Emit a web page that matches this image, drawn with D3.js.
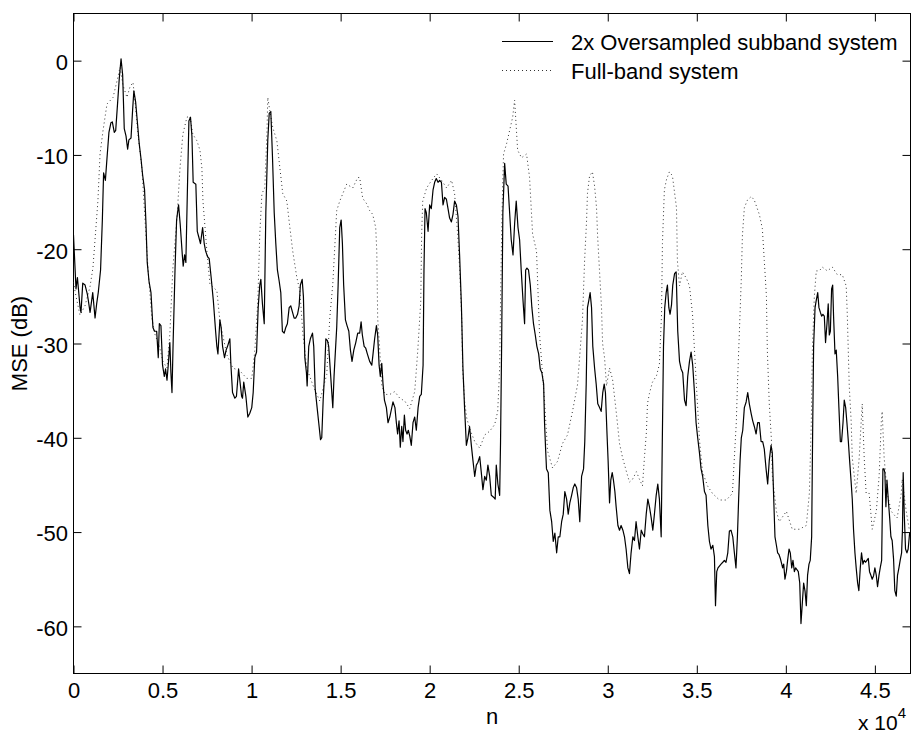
<!DOCTYPE html>
<html>
<head>
<meta charset="utf-8">
<script src="https://cdn.jsdelivr.net/npm/d3@7"></script>
<style>
  body { margin: 0; background: #fff; }
  svg { display: block; font-family: Arial, "Liberation Sans", Helvetica, sans-serif; }
</style>
</head>
<body>
<div id="chart"></div>
<script>
// MSE curves: [n (samples), MSE (dB)]
var subbandPoints = [
  [0,-18.5],[140,-24.2],[220,-23.0],[370,-26.2],[420,-26.7],[520,-23.6],[650,-23.8],[780,-24.8],
  [830,-25.4],[930,-26.7],[1080,-24.6],[1210,-27.3],[1300,-25.8],[1390,-24.6],[1520,-22.2],[1620,-16.9],
  [1690,-11.9],[1790,-12.7],[1860,-10.9],[1990,-7.6],[2100,-6.6],[2180,-6.5],[2290,-7.6],[2370,-7.4],
  [2480,-4.4],[2570,-1.9],[2670,0.2],[2760,-1.5],[2850,-7.2],[2950,-8.0],[3040,-9.4],[3110,-8.4],
  [3230,-8.2],[3320,-5.2],[3390,-3.2],[3490,-4.4],[3600,-6.8],[3690,-8.8],[3790,-10.4],[3880,-12.1],
  [3990,-13.7],[4070,-17.3],[4140,-21.4],[4240,-23.4],[4350,-24.6],[4460,-28.3],[4550,-28.7],[4670,-28.7],
  [4760,-31.5],[4820,-27.9],[4910,-28.1],[5000,-32.3],[5100,-33.5],[5170,-32.7],[5250,-33.9],[5320,-32.3],
  [5410,-29.9],[5470,-33.1],[5530,-35.2],[5600,-29.5],[5700,-22.2],[5790,-16.9],[5900,-15.3],[5990,-17.3],
  [6110,-20.6],[6160,-21.8],[6240,-20.6],[6310,-21.4],[6410,-12.5],[6480,-6.4],[6570,-6.0],[6650,-8.0],
  [6720,-12.9],[6870,-13.1],[6950,-18.1],[7020,-18.6],[7130,-19.4],[7250,-17.7],[7340,-19.4],[7420,-20.2],
  [7530,-20.8],[7620,-21.0],[7730,-23.0],[7850,-25.4],[7980,-28.7],[8050,-30.3],[8110,-31.1],[8220,-27.5],
  [8290,-28.3],[8370,-30.3],[8480,-31.5],[8570,-30.7],[8650,-30.3],[8780,-29.5],[8840,-32.3],[8930,-35.2],
  [9060,-35.8],[9150,-35.6],[9270,-32.7],[9440,-35.6],[9490,-35.8],[9560,-34.1],[9680,-35.6],[9790,-37.8],
  [9900,-37.4],[10010,-36.8],[10090,-35.2],[10180,-31.5],[10280,-30.9],[10370,-26.2],[10460,-23.8],[10520,-23.2],
  [10610,-25.8],[10710,-27.9],[10800,-16.1],[10910,-8.4],[10990,-5.6],[11080,-5.4],[11170,-10.0],[11270,-16.1],
  [11360,-19.4],[11450,-22.2],[11550,-23.4],[11640,-24.6],[11730,-28.7],[11830,-28.9],[11920,-28.3],[12010,-27.9],
  [12110,-26.2],[12200,-26.0],[12300,-26.7],[12390,-27.3],[12480,-27.3],[12580,-26.9],[12670,-26.0],[12740,-23.8],
  [12840,-23.2],[12910,-25.0],[12990,-31.5],[13080,-33.1],[13120,-34.5],[13210,-30.3],[13300,-29.5],[13420,-28.9],
  [13490,-30.3],[13570,-34.8],[13680,-36.8],[13770,-38.4],[13870,-40.2],[13940,-40.0],[14020,-36.0],[14090,-33.5],
  [14170,-29.5],[14260,-29.7],[14330,-30.3],[14430,-33.1],[14560,-36.8],[14630,-33.5],[14710,-30.7],[14780,-28.3],
  [14860,-23.8],[14950,-17.7],[15030,-16.9],[15100,-19.4],[15170,-23.8],[15270,-27.5],[15360,-28.1],[15460,-28.7],
  [15550,-30.7],[15640,-31.9],[15740,-30.7],[15850,-29.9],[15960,-28.9],[16070,-28.9],[16150,-27.7],[16220,-29.1],
  [16320,-30.3],[16410,-30.5],[16500,-31.1],[16630,-31.9],[16750,-32.3],[16820,-31.1],[16910,-29.5],[17010,-28.1],
  [17080,-29.1],[17160,-32.3],[17230,-33.5],[17310,-32.1],[17380,-34.3],[17460,-36.0],[17570,-36.8],[17660,-38.4],
  [17760,-37.8],[17850,-37.0],[17940,-36.2],[18050,-36.8],[18130,-38.4],[18200,-39.6],[18280,-38.2],[18350,-41.0],
  [18430,-38.8],[18500,-40.4],[18580,-37.6],[18650,-39.2],[18730,-39.6],[18800,-39.2],[18880,-39.8],[18970,-40.8],
  [19065,-38.4],[19160,-37.8],[19250,-39.2],[19350,-36.8],[19440,-35.6],[19530,-35.4],[19630,-32.3],[19680,-22.2],
  [19740,-15.7],[19810,-16.1],[19910,-18.1],[20000,-15.3],[20090,-15.7],[20190,-13.7],[20280,-12.9],[20370,-12.5],
  [20470,-12.9],[20560,-12.7],[20660,-12.9],[20750,-15.3],[20840,-14.5],[20940,-14.7],[21030,-15.7],[21120,-16.7],
  [21220,-17.1],[21310,-16.3],[21400,-14.9],[21500,-15.3],[21590,-16.5],[21680,-20.6],[21780,-25.8],[21870,-32.7],
  [21960,-36.8],[22060,-40.8],[22150,-40.0],[22240,-38.8],[22340,-40.8],[22430,-42.4],[22530,-44.1],[22620,-42.9],
  [22710,-42.6],[22810,-42.0],[22900,-43.7],[22990,-45.5],[23090,-44.1],[23180,-44.5],[23270,-42.9],[23370,-44.1],
  [23460,-46.1],[23590,-46.3],[23680,-46.5],[23740,-42.9],[23830,-44.9],[23930,-46.1],[23980,-40.4],[24040,-30.3],
  [24110,-16.1],[24210,-10.9],[24300,-13.1],[24400,-13.3],[24490,-16.1],[24580,-19.0],[24680,-20.6],[24770,-17.3],
  [24860,-14.9],[24960,-17.7],[25050,-19.0],[25140,-22.2],[25240,-25.4],[25330,-27.9],[25390,-22.2],[25460,-22.0],
  [25550,-22.2],[25650,-23.8],[25740,-26.2],[25830,-27.9],[25930,-29.1],[26020,-30.3],[26120,-31.1],[26210,-32.7],
  [26300,-33.1],[26400,-34.3],[26450,-38.4],[26510,-41.2],[26560,-43.3],[26660,-43.7],[26750,-47.7],[26850,-48.9],
  [26940,-51.0],[27030,-50.1],[27130,-52.2],[27220,-50.5],[27310,-50.5],[27410,-48.9],[27500,-48.1],[27590,-45.7],
  [27690,-46.5],[27780,-48.1],[27870,-46.9],[27970,-46.1],[28060,-45.3],[28150,-44.9],[28250,-45.3],[28340,-46.5],
  [28430,-48.9],[28530,-44.1],[28640,-43.3],[28710,-40.4],[28790,-34.3],[28860,-26.2],[28940,-25.4],[29010,-24.6],
  [29090,-26.2],[29160,-30.3],[29260,-32.6],[29350,-34.3],[29440,-36.4],[29540,-36.8],[29630,-37.2],[29720,-35.2],
  [29800,-34.3],[29870,-35.2],[29950,-39.2],[30020,-42.4],[30100,-46.9],[30170,-44.5],[30250,-43.7],[30320,-44.5],
  [30400,-45.7],[30470,-47.3],[30570,-49.3],[30660,-49.8],[30750,-49.3],[30850,-49.8],[30940,-50.5],[31030,-51.8],
  [31130,-53.8],[31220,-54.4],[31310,-52.2],[31410,-50.5],[31500,-50.9],[31590,-48.9],[31690,-50.5],[31780,-51.8],
  [31880,-49.8],[31970,-50.2],[32060,-50.5],[32160,-48.1],[32250,-46.5],[32340,-47.3],[32440,-48.5],[32530,-49.8],
  [32620,-48.1],[32720,-46.1],[32810,-44.9],[32900,-46.5],[33000,-50.5],[33050,-42.4],[33130,-30.3],[33200,-26.2],
  [33280,-24.6],[33350,-23.8],[33430,-26.2],[33500,-26.9],[33580,-25.9],[33650,-23.8],[33750,-22.6],[33840,-22.4],
  [33930,-28.7],[34030,-31.9],[34120,-32.7],[34210,-33.1],[34310,-36.0],[34400,-36.6],[34490,-33.5],[34590,-31.9],
  [34680,-30.9],[34770,-32.3],[34870,-35.2],[34960,-38.4],[35050,-40.0],[35150,-41.6],[35240,-43.3],[35330,-44.1],
  [35430,-45.7],[35520,-46.1],[35620,-49.3],[35710,-51.0],[35800,-51.8],[35900,-51.4],[35990,-52.6],[36050,-57.8],
  [36120,-54.2],[36190,-53.8],[36270,-53.6],[36360,-53.4],[36460,-53.2],[36550,-53.0],[36640,-53.2],[36740,-52.2],
  [36830,-49.9],[36920,-49.8],[37020,-50.5],[37110,-52.2],[37200,-53.8],[37280,-50.5],[37350,-46.5],[37430,-42.4],
  [37500,-40.0],[37580,-39.2],[37670,-36.8],[37770,-36.2],[37860,-35.2],[37950,-36.4],[38050,-37.4],[38140,-38.2],
  [38230,-38.8],[38330,-39.6],[38420,-38.4],[38510,-38.4],[38610,-40.4],[38700,-40.4],[38790,-41.2],[38890,-43.3],
  [38980,-44.9],[39070,-42.4],[39170,-40.8],[39240,-41.6],[39320,-46.5],[39390,-50.5],[39470,-51.4],[39540,-52.2],
  [39620,-52.4],[39690,-52.8],[39770,-53.4],[39820,-53.8],[39880,-53.4],[39950,-55.0],[40030,-54.2],[40100,-53.0],
  [40180,-51.8],[40250,-52.2],[40330,-53.8],[40400,-53.0],[40480,-54.2],[40550,-53.8],[40630,-54.0],[40700,-54.2],
  [40780,-55.4],[40850,-59.7],[40930,-57.4],[41000,-55.4],[41080,-56.3],[41150,-57.8],[41220,-54.6],[41300,-53.4],
  [41370,-53.0],[41450,-50.5],[41510,-38.4],[41560,-30.3],[41640,-26.2],[41710,-25.4],[41790,-24.6],[41860,-26.2],
  [41940,-26.7],[42010,-27.1],[42080,-26.9],[42160,-27.1],[42230,-29.9],[42310,-27.9],[42380,-25.8],[42440,-29.1],
  [42500,-28.7],[42570,-24.2],[42630,-23.8],[42680,-27.1],[42760,-31.1],[42830,-30.7],[42910,-33.5],[42980,-36.8],
  [43060,-40.4],[43130,-40.4],[43210,-38.4],[43280,-36.0],[43360,-36.8],[43430,-38.4],[43510,-40.4],[43580,-42.4],
  [43660,-44.5],[43730,-46.5],[43800,-49.7],[43880,-52.2],[43950,-53.8],[44030,-55.4],[44100,-56.2],[44180,-53.8],
  [44250,-52.2],[44330,-53.4],[44400,-53.0],[44480,-53.2],[44550,-53.0],[44630,-52.8],[44700,-54.2],[44780,-54.6],
  [44850,-55.0],[44930,-54.6],[45000,-53.8],[45080,-54.6],[45150,-55.8],[45230,-54.6],[45300,-53.8],[45380,-53.0],
  [45450,-43.3],[45510,-43.3],[45560,-43.7],[45620,-47.3],[45680,-44.5],[45750,-46.5],[45830,-48.5],[45900,-50.5],
  [45970,-50.9],[46050,-52.9],[46120,-56.2],[46200,-56.8],[46270,-54.6],[46350,-53.8],[46420,-53.0],[46500,-52.2],
  [46550,-49.7],[46590,-43.7],[46650,-48.1],[46720,-51.8],[46800,-52.2],[46870,-51.8],[46950,-50.1]
];

var fullbandPoints = [
  [0,-23.5],[140,-25],[365,-27],[645,-26],[925,-24],[1090,-22],[1370,-14.9],[1490,-9.9],
  [1660,-7.4],[1880,-4.6],[2220,-3.9],[2500,-1.7],[2610,-0.7],[2780,-2.6],[3000,-3.9],[3170,-2.8],
  [3340,-2.3],[3450,-4.2],[3620,-7.8],[3840,-11.4],[4010,-16.7],[4180,-22],[4400,-27.3],[4570,-29],
  [4850,-30.5],[5020,-31.9],[5250,-32.6],[5410,-29],[5580,-22],[5810,-16.7],[5980,-11.4],[6140,-7.8],
  [6370,-6],[6540,-5.9],[6700,-7.8],[6930,-8.5],[7100,-9.5],[7210,-11.4],[7270,-14.9],[7490,-20.2],
  [7660,-23.7],[8050,-24.4],[8220,-27.6],[8610,-31.2],[8950,-32.6],[9340,-32.9],[9730,-33.7],[10010,-33.7],
  [10180,-30.8],[10350,-25.5],[10460,-18.4],[10580,-14.1],[10740,-13.5],[10860,-7.8],[10910,-3.9],[11020,-5.3],
  [11190,-7.1],[11420,-8.5],[11590,-11.4],[11750,-14.1],[11980,-14.9],[12150,-17.7],[12310,-20.2],[12540,-23],
  [12710,-24.4],[12880,-29],[13100,-32.6],[13440,-34.4],[13830,-36.1],[14220,-33.3],[14390,-27.3],[14560,-23.7],
  [14780,-15.9],[14950,-14.9],[15340,-13.1],[15680,-13.5],[15960,-12.4],[16070,-12.4],[16240,-14.6],[16470,-15.2],
  [16630,-15.9],[16800,-16.3],[16970,-17.7],[17030,-20.2],[17080,-27.3],[17200,-30.8],[17310,-34.4],[17480,-35.4],
  [17760,-35.4],[18040,-35.1],[18320,-35.8],[18600,-36.1],[18880,-36.9],[19160,-35.1],[19330,-30.8],[19500,-25.5],
  [19550,-18.4],[19610,-14.9],[19830,-13.5],[20110,-12.7],[20390,-12.0],[20670,-12.7],[20950,-13.5],[21230,-12.7],
  [21400,-14.1],[21570,-18.4],[21680,-22],[21800,-27.3],[21850,-32.6],[21960,-36.1],[22080,-37.9],[22240,-39],
  [22530,-40.4],[22810,-41.1],[23090,-39.7],[23370,-39.3],[23650,-38.6],[23820,-37.2],[23930,-32.6],[23980,-25.5],
  [24040,-18.4],[24100,-13.1],[24150,-9.9],[24320,-8.8],[24490,-7.4],[24660,-6],[24770,-4.2],[24940,-9.5],
  [25160,-10.3],[25440,-9.9],[25610,-12.4],[25780,-18.4],[26000,-20.2],[26170,-29],[26450,-36.1],[26620,-41.4],
  [26900,-43.2],[27180,-42.5],[27460,-40.6],[27740,-39.7],[28020,-37.2],[28300,-34.4],[28580,-27.5],[28700,-21.2],
  [28810,-17],[28860,-14.1],[28980,-12.2],[29140,-11.8],[29260,-13.3],[29370,-15.6],[29430,-18.6],[29540,-22.4],
  [29650,-26.2],[29710,-30.0],[29820,-31.5],[29930,-34.5],[30100,-32.6],[30270,-33.8],[30490,-37.5],[30660,-40.6],
  [30830,-42.1],[31050,-43.6],[31220,-44.7],[31390,-44.4],[31610,-43.6],[31780,-44.4],[31950,-45.1],[32060,-42.1],
  [32170,-39.4],[32230,-36.4],[32340,-35.3],[32510,-34.1],[32740,-33.4],[32900,-32.2],[33020,-26.9],[33070,-19.4],
  [33180,-13.7],[33300,-12.6],[33460,-11.8],[33630,-12.2],[33860,-15.6],[33910,-21.2],[34030,-23.9],[34190,-22.4],
  [34420,-23.1],[34590,-23.9],[34760,-26.9],[34980,-34.5],[35150,-40.2],[35320,-43.6],[35600,-45.1],[35880,-45.9],
  [36270,-46.6],[36660,-46.6],[37000,-45.9],[37110,-42.1],[37220,-38.3],[37280,-34.5],[37390,-28.8],[37500,-23.1],
  [37560,-18.6],[37670,-15.6],[37840,-14.8],[38060,-14.4],[38230,-14.8],[38510,-16.3],[38680,-17.8],[38790,-21.2],
  [38910,-25.0],[38960,-30.7],[39070,-36.4],[39190,-40.2],[39240,-44.0],[39470,-47.8],[39630,-48.9],[40030,-47.8],
  [40360,-49.7],[40760,-49.7],[41150,-49.3],[41320,-45.9],[41430,-38.3],[41490,-30.7],[41600,-25.0],[41710,-22.3],
  [41880,-22.3],[42050,-21.9],[42330,-22.3],[42610,-21.9],[42890,-22.7],[43170,-22.7],[43390,-23.9],[43450,-26.9],
  [43560,-34.5],[43670,-38.3],[43730,-42.1],[43950,-45.9],[44120,-42.1],[44230,-38.3],[44290,-36.4],[44400,-42.1],
  [44510,-45.9],[44680,-45.9],[44850,-49.7],[45080,-47.8],[45240,-44.0],[45360,-38.3],[45410,-37.2],[45520,-42.1],
  [45690,-45.9],[45920,-47.8],[46090,-48.2],[46250,-48.5],[46480,-45.9],[46530,-44.4],[46760,-47.8],[46930,-49.7]
];

var xTicks = [0, 5000, 10000, 15000, 20000, 25000, 30000, 35000, 40000, 45000];
var yTicks = [-60, -50, -40, -30, -20, -10, 0];
var legendLabels = ["2x Oversampled subband system", "Full-band system"];

var width = 912, height = 736;
// plot box (not "top"/"left": those clash with window globals)
var plotLeft = 73.5, plotRight = 910.5, plotTop = 13.5, plotBottom = 673.5;

var svg = d3.select("#chart").append("svg")
  .attr("width", width)
  .attr("height", height);

var x = d3.scaleLinear().domain([0, 47000]).range([plotLeft, plotRight]);
var y = d3.scaleLinear().domain([-65, 5]).range([plotBottom, plotTop]);

svg.append("clipPath").attr("id", "plot-clip")
  .append("rect")
    .attr("x", plotLeft).attr("y", plotTop)
    .attr("width", plotRight - plotLeft).attr("height", plotBottom - plotTop);

// axes with inward ticks on all four sides
function styleAxis (g) {
  g.attr("font-size", 22)
    .attr("font-family", "Arial, 'Liberation Sans', Helvetica, sans-serif")
    .attr("color", "#000");
  g.select(".domain").remove();
}

// plain hyphen for negatives, like the original
function plainNumber (d) { return String(d); }

svg.append("g")
  .attr("transform", "translate(0," + plotBottom + ")")
  .call(d3.axisBottom(x).tickValues(xTicks).tickSizeInner(-8).tickSizeOuter(0).tickPadding(9)
    .tickFormat(function (d) { return String(d / 10000); }))
  .call(styleAxis);

svg.append("g")
  .attr("transform", "translate(0," + plotTop + ")")
  .call(d3.axisTop(x).tickValues(xTicks).tickSizeInner(-8).tickSizeOuter(0).tickFormat(""))
  .call(styleAxis);

svg.append("g")
  .attr("transform", "translate(" + plotLeft + ",0)")
  .call(d3.axisLeft(y).tickValues(yTicks).tickSizeInner(-8).tickSizeOuter(0).tickPadding(5.5)
    .tickFormat(plainNumber))
  .call(styleAxis)
  .selectAll("text").attr("dy", "0.4em");

svg.append("g")
  .attr("transform", "translate(" + plotRight + ",0)")
  .call(d3.axisRight(y).tickValues(yTicks).tickSizeInner(-8).tickSizeOuter(0).tickFormat(""))
  .call(styleAxis);

// frame
svg.append("rect")
  .attr("x", plotLeft).attr("y", plotTop)
  .attr("width", plotRight - plotLeft).attr("height", plotBottom - plotTop)
  .attr("fill", "none")
  .attr("stroke", "#000")
  .attr("stroke-width", 1);

var line = d3.line()
  .x(function (d) { return x(d[0]); })
  .y(function (d) { return y(d[1]); });

var plot = svg.append("g").attr("clip-path", "url(#plot-clip)");

plot.append("path")
  .datum(fullbandPoints)
  .attr("d", line)
  .attr("fill", "none")
  .attr("stroke", "#333")
  .attr("stroke-width", 1)
  .attr("stroke-dasharray", "1,3");

plot.append("path")
  .datum(subbandPoints)
  .attr("d", line)
  .attr("fill", "none")
  .attr("stroke", "#000")
  .attr("stroke-width", 1.2)
  .attr("stroke-linejoin", "round");

// legend (no box)
var legend = svg.append("g").attr("font-size", 22);
legendLabels.forEach(function (label, i) {
  var ly = 41.5 + i * 29;
  legend.append("line")
    .attr("x1", 502).attr("x2", 553)
    .attr("y1", ly).attr("y2", ly)
    .attr("stroke", i === 0 ? "#000" : "#333")
    .attr("stroke-width", i === 0 ? 1.2 : 1)
    .attr("stroke-dasharray", i === 0 ? null : "1,3");
  legend.append("text")
    .attr("x", 571).attr("y", ly + 8)
    .text(label);
});

// axis labels
svg.append("text")
  .attr("x", (plotLeft + plotRight) / 2).attr("y", 724)
  .attr("text-anchor", "middle")
  .attr("font-size", 22)
  .text("n");

svg.append("text")
  .attr("transform", "translate(27," + ((plotTop + plotBottom) / 2) + ") rotate(-90)")
  .attr("text-anchor", "middle")
  .attr("font-size", 22)
  .text("MSE (dB)");

// exponent note under the right end of the x axis
var expo = svg.append("text")
  .attr("x", 906).attr("y", 730)
  .attr("text-anchor", "end")
  .attr("font-size", 21);
expo.append("tspan").text("x 10");
expo.append("tspan").attr("dy", -12).attr("font-size", 15).text("4");
</script>
</body>
</html>
